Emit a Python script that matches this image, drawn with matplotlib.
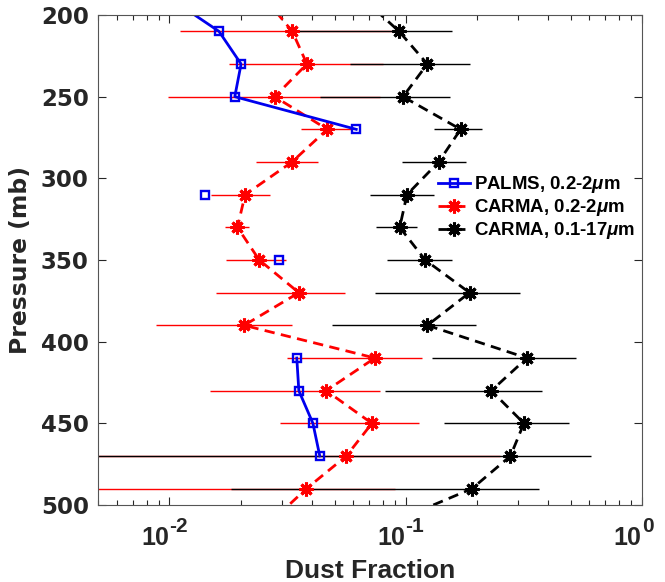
import numpy as np
import matplotlib
matplotlib.use("Agg")
from matplotlib import pyplot as plt
from matplotlib import transforms

plt.rcParams['font.family'] = ['Liberation Sans', 'DejaVu Sans']
plt.rcParams['font.weight'] = 'bold'
plt.rcParams['mathtext.fontset'] = 'custom'
plt.rcParams['mathtext.rm'] = 'Liberation Sans:bold'
plt.rcParams['mathtext.bf'] = 'Liberation Sans:bold'
plt.rcParams['mathtext.it'] = 'Liberation Sans:italic'

# pressure levels (mb)
pres = [190, 210, 230, 250, 270, 290, 310, 330, 350, 370, 390, 410, 430, 450, 470, 490, 510]

# PALMS 0.2-2 um
palms = [0.0101, 0.0162, 0.0201, 0.0189, 0.0618, np.nan, 0.0142, np.nan, 0.0292,
         np.nan, np.nan, 0.0346, 0.0353, 0.0405, 0.0433, np.nan, np.nan]

# CARMA 0.2-2 um
carma_fine = [0.0254, 0.0331, 0.0382, 0.0279, 0.0466, 0.0330, 0.0209, 0.0194, 0.0240,
              0.0353, 0.0207, 0.0741, 0.0461, 0.0720, 0.0561, 0.0380, 0.0270]
# CARMA 0.1-17 um
carma_all = [0.0661, 0.0938, 0.1236, 0.0975, 0.171, 0.138, 0.1013, 0.0944, 0.1211,
             0.1866, 0.1236, 0.3266, 0.2307, 0.317, 0.278, 0.191, 0.0897]

# error bar ranges, 210-490 mb
err_pres = pres[1:-1]
fine_lo = [0.0111, 0.0178, 0.0099, 0.0361, 0.0233, 0.0150, 0.0172, 0.0173, 0.0157,
           0.00879, 0.0314, 0.0148, 0.0295, 0.004, 0.0035]
fine_hi = [0.098, 0.080, 0.078, 0.059, 0.0425, 0.0267, 0.0218, 0.0312, 0.0555,
           0.0330, 0.1178, 0.0776, 0.1138, 0.25, 0.09]
all_lo = [0.0332, 0.0583, 0.0433, 0.1314, 0.0964, 0.0709, 0.0751, 0.0833, 0.0739,
          0.0489, 0.129, 0.0815, 0.145, 0.004, 0.0183]
all_hi = [0.1567, 0.1866, 0.1536, 0.2104, 0.1808, 0.1318, 0.1120, 0.1578, 0.304,
          0.198, 0.525, 0.378, 0.492, 0.612, 0.366]

xticks = [0.01, 0.1, 1]
xexps = ['-2', '-1', '0']

fig = plt.figure(figsize=(6.65, 5.82), dpi=100)
ax = fig.add_axes([0.148, 0.1323, 0.817, 0.8419])

fc = np.array(carma_fine[1:-1])
ac = np.array(carma_all[1:-1])
ax.errorbar(fc, err_pres, xerr=[fc - np.array(fine_lo), np.array(fine_hi) - fc],
            fmt='none', ecolor='red', elinewidth=1.0, capsize=0)
ax.errorbar(ac, err_pres, xerr=[ac - np.array(all_lo), np.array(all_hi) - ac],
            fmt='none', ecolor='black', elinewidth=1.0, capsize=0)

star = (8, 2, 0)
dash = (0, (3.7, 2.3))
l2, = ax.plot(carma_fine, pres, color='red', ls=dash, lw=2.0, marker=star,
              ms=10, mew=2.2, label=r'CARMA, 0.2-2$\mu$m')
l3, = ax.plot(carma_all, pres, color='black', ls=dash, lw=2.0, marker=star,
              ms=10, mew=2.2, label=r'CARMA, 0.1-17$\mu$m')
l1, = ax.plot(palms, pres, color='#0000ee', lw=2.0, marker='s', ms=6,
              mfc='none', mew=1.7, label=r'PALMS, 0.2-2$\mu$m')

ax.set_xscale('log')
ax.set_xlim(0.005, 1)
ax.set_ylim(500, 200)
ax.set_yticks([200, 250, 300, 350, 400, 450, 500])
ax.set_xticks(xticks)
ax.set_xticklabels(['', '', ''])

ax.tick_params(which='both', direction='in', top=True, right=True,
               colors='#262626', width=0.8)
ax.tick_params(which='major', length=6, pad=7)
ax.tick_params(which='minor', length=3.5)
for s in ax.spines.values():
    s.set_color('#555555')
    s.set_linewidth(0.8)
for t in ax.get_yticklabels():
    t.set_fontfamily('DejaVu Sans')
    t.set_fontsize(16.5)
    t.set_fontweight('bold')

# MATLAB style 10^n labels with large superscripts
trans = transforms.blended_transform_factory(ax.transData, ax.transAxes)
for xv, ex in zip(xticks, xexps):
    ax.text(xv, -40 / 490, '10', transform=trans, ha='right', va='baseline',
            fontsize=18, fontweight='bold', color='#262626')
    ax.text(xv, -26.5 / 490, ex, transform=trans, ha='left', va='baseline',
            fontsize=15, fontweight='bold', color='#262626')

ax.set_xlabel('Dust Fraction', fontsize=19, fontweight='bold', color='#262626',
              labelpad=32)
ax.set_ylabel('Pressure (mb)', fontsize=16.9, fontweight='bold', color='#262626',
              family='DejaVu Sans', labelpad=6)

ax.legend(handles=[l1, l2, l3], loc='upper left', bbox_to_anchor=(438 / 665, 0.7005),
          bbox_transform=fig.transFigure, frameon=False, fontsize=13.4,
          handlelength=1.72, handletextpad=0.2, labelspacing=0.1,
          borderpad=0, borderaxespad=0)

fig.savefig('out.png', dpi=100)
